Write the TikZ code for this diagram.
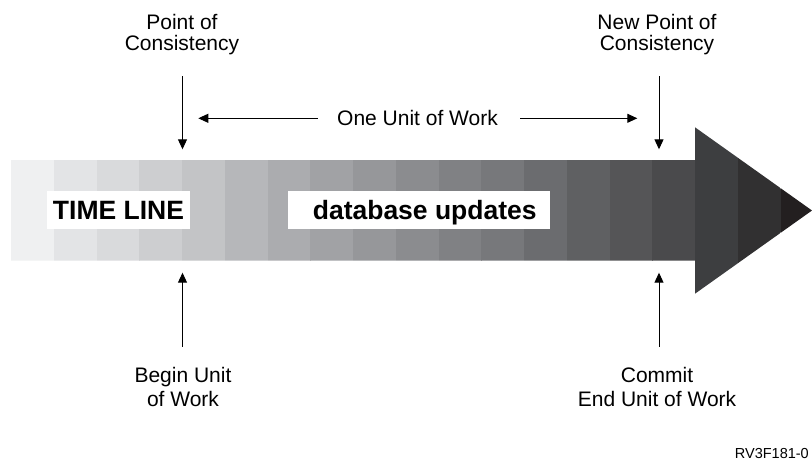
\documentclass[tikz,border=0pt]{standalone}
\usepackage{fontspec}
\setmainfont{Liberation Sans}
\usetikzlibrary{arrows.meta}
\begin{document}
\begin{tikzpicture}[x=1pt,y=-1pt,
  conn/.style={line width=1pt, -{Triangle[length=10pt,width=9pt]}},
  toplabel/.style={align=center, inner sep=0pt, anchor=north, font=\fontsize{21}{21.3}\selectfont},
  botlabel/.style={align=center, inner sep=0pt, anchor=north, font=\fontsize{21}{24.4}\selectfont},
  midlabel/.style={inner sep=0pt, font=\fontsize{21}{24}\selectfont},
  tagbox/.style={fill=white, inner xsep=0pt, inner ysep=0pt, text height=29pt, text depth=9.5pt, anchor=base, font=\fontsize{26.5}{30}\selectfont\bfseries}]
\useasboundingbox[fill=white] (0,0) rectangle (812,463);
% time line arrow with grey bands
\begin{scope}
\clip (11,160) -- (695,160) -- (695,127.3) -- (812,210.5) -- (695,293.7) -- (695,260.7) -- (11,260.7) -- cycle;
\foreach \c [count=\i from 0] in {EFF0F1,E3E4E6,D9DADC,CDCED0,C3C4C6,B6B7BA,ABACAF,A1A2A5,96979A,8B8C8F,808184,77787B,6B6C6F,5F6062,555557,4A4A4C,3D3E40,313031,231F20} {
  \definecolor{band}{HTML}{\c}
  \fill[band] ({11+42.75*\i},120) rectangle ({11+42.75*(\i+1)+0.3},300);
}
\end{scope}
% labels in the bar
\node[tagbox, minimum width=143pt] (tl) at (118.5,219.5) {TIME LINE};
\node[tagbox, minimum width=262.5pt] (du) at (418.75,219.5) {\hspace*{12pt}database updates};
% top labels
\node[toplabel] (pc) at (182,14) {Point of\\Consistency};
\node[toplabel] (npc) at (657,14) {New Point of\\Consistency};
\coordinate (pcT) at (182.5,149.3);
\coordinate (npcT) at (659,149.3);
\draw[conn, shorten <=21pt] (pcT |- pc.south) -- (pcT);
\draw[conn, shorten <=21pt] (npcT |- npc.south) -- (npcT);
% unit of work
\node[midlabel] (ouw) at (417.5,118.3) {One Unit of Work};
\coordinate (lt) at (198.3,118.3);
\coordinate (rt) at (637.3,118.3);
\draw[conn, shorten <=19pt] (ouw.west) -- (lt);
\draw[conn, shorten <=22pt] (ouw.east) -- (rt);
% bottom labels
\node[botlabel] (bu) at (183,366.7) {Begin Unit\\of Work};
\node[botlabel] (cm) at (657,366.7) {Commit\\End Unit of Work};
\coordinate (buT) at (182.5,272.7);
\coordinate (cmT) at (659,272.7);
\draw[conn, shorten <=20pt] (buT |- bu.north) -- (buT);
\draw[conn, shorten <=20pt] (cmT |- cm.north) -- (cmT);
% figure id
\node[inner sep=0pt, anchor=base east, font=\fontsize{14.5}{16}\selectfont] (rv) at (809,458.3) {RV3F181-0};
\end{tikzpicture}
\end{document}
